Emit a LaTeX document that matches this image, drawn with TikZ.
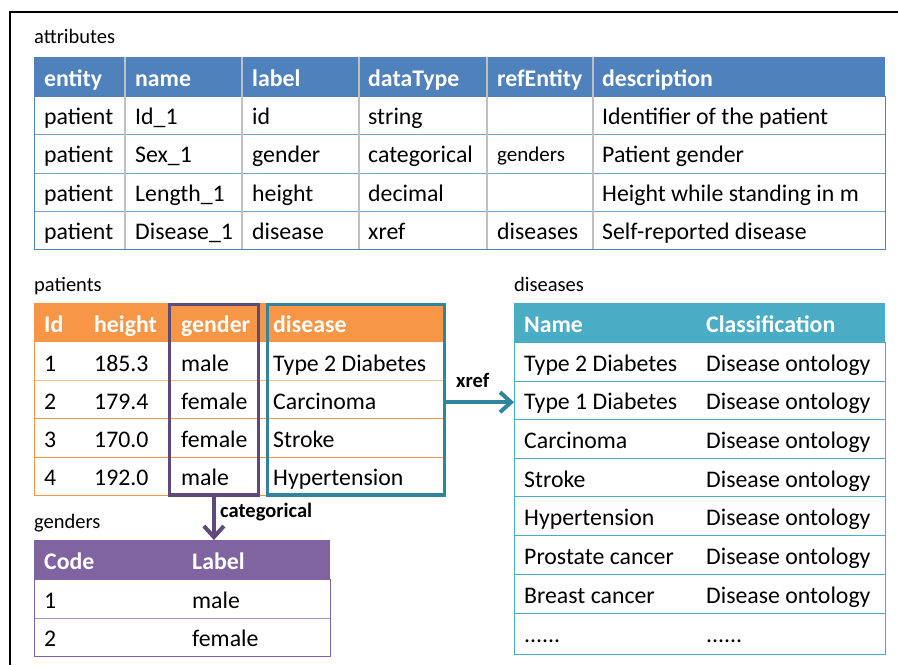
\documentclass[tikz,border=0pt]{standalone}
\usepackage{fontspec}
\setmainfont{Carlito}
\usetikzlibrary{arrows.meta}
\definecolor{attblue}{HTML}{4F81BD}
\definecolor{attline}{HTML}{7BA0CD}
\definecolor{sepgray}{HTML}{C0C0C0}
\definecolor{patorange}{HTML}{F79646}
\definecolor{genpurple}{HTML}{8064A2}
\definecolor{genline}{HTML}{A590C4}
\definecolor{disteal}{HTML}{4BACC6}
\definecolor{boxpurple}{HTML}{5F497A}
\definecolor{boxteal}{HTML}{31849B}

\begin{document}
\begin{tikzpicture}[x=1pt,y=-1pt,
  cell/.style={anchor=base west, inner sep=0pt, yshift=-1pt, font=\fontsize{23.8}{28}\selectfont},
  head/.style={anchor=base west, inner sep=0pt, yshift=-1pt, text=white, font=\fontsize{23.8}{28}\selectfont\bfseries},
  caption/.style={anchor=base west, inner sep=0pt, font=\fontsize{20.5}{24}\selectfont},
  linklabel/.style={anchor=base west, inner sep=0pt, font=\fontsize{20.5}{24}\selectfont\bfseries},
  headbar/.style={anchor=north west, inner sep=0pt, minimum height=39pt},
  colbox/.style={draw, line width=3.5pt, inner sep=0pt},
  link/.style={line width=4pt, -{Straight Barb[length=11pt,width=20pt]}}]
\useasboundingbox (0,0) rectangle (898,665);

% outer frame
\draw[line width=1.5pt] (10,665) -- (10,12) -- (898,12);

% ---------------- attributes ----------------
\node[caption] (capatt) at (34,43) {attributes};
\node[headbar, fill=attblue, minimum width=851pt] (atthead) at (34,57) {};
\foreach \y in {134,173,211} \draw[attline, line width=1pt] (34,\y) -- (885,\y);
\draw[attblue, line width=1pt] (34,96) rectangle (885,249);
\foreach \x in {125,242,359,487,593} \draw[sepgray, line width=1.2pt] (\x,57) -- (\x,249);
\foreach \x/\t [count=\c] in {44/entity,135/name,252/label,368/dataType,497/refEntity,602/description}
  \node[head] (ah\c) at (\x,85) {\t};
\foreach \x/\t [count=\c] in {44/patient,135/Id\_1,252/id,368/string,602/Identifier of the patient}
  \node[cell] (a1c\c) at (\x,123.5) {\t};
\foreach \x/\t [count=\c] in {44/patient,135/Sex\_1,252/gender,368/categorical,602/Patient gender}
  \node[cell] (a2c\c) at (\x,161.5) {\t};
\node[cell, font=\fontsize{21}{25}\selectfont] (a2ref) at (497,160) {genders};
\foreach \x/\t [count=\c] in {44/patient,135/Length\_1,252/height,368/decimal,602/Height while standing in m}
  \node[cell] (a3c\c) at (\x,200.5) {\t};
\foreach \x/\t [count=\c] in {44/patient,135/Disease\_1,252/disease,368/xref,497/diseases,602/Self-reported disease}
  \node[cell] (a4c\c) at (\x,238.5) {\t};

% ---------------- patients ----------------
\node[caption] (cappat) at (34,291) {patients};
\node[headbar, fill=patorange, minimum width=409pt] (pathead) at (34,303) {};
\draw[patorange!60, line width=1pt] (34,380) -- (443,380);
\foreach \y in {418,457} \draw[patorange, line width=1pt] (34,\y) -- (443,\y);
\draw[patorange, line width=1pt] (34,342) -- (34,495) -- (443,495);
\foreach \x/\t [count=\c] in {44/Id,94/height,181/gender,273/disease}
  \node[head] (ph\c) at (\x,331) {\t};
\foreach \y/\a/\b/\g/\d [count=\r] in {370/1/185.3/male/Type 2 Diabetes,
                                     408/2/179.4/female/Carcinoma,
                                     446.5/3/170.0/female/Stroke,
                                     484.5/4/192.0/male/Hypertension}{
  \node[cell] (p\r id) at (44,\y) {\a};
  \node[cell] (p\r ht) at (94,\y) {\b};
  \node[cell] (p\r gd) at (181,\y) {\g};
  \node[cell] (p\r ds) at (273,\y) {\d};
}
% highlighted columns
\node[colbox, draw=boxpurple, minimum width=88.8pt, minimum height=190.5pt] (gbox) at (213.9,399.7) {};
\node[colbox, draw=boxteal, minimum width=177.2pt, minimum height=190.5pt] (tbox) at (356.1,399.7) {};

% ---------------- genders ----------------
\node[caption] (capgen) at (34,528) {genders};
\node[headbar, fill=genpurple, minimum width=296pt] (genhead) at (34,540) {};
\draw[genline, line width=1pt] (34,618) -- (330,618);
\draw[genpurple, line width=1pt] (34,579) rectangle (330,656);
\node[head] (gh1) at (44,568) {Code};
\node[head] (gh2) at (192,568) {Label};
\node[cell] (g1c) at (44,607) {1};
\node[cell] (g1l) at (192,607) {male};
\node[cell] (g2c) at (44,645.5) {2};
\node[cell] (g2l) at (192,645.5) {female};

% ---------------- diseases ----------------
\node[caption] (capdis) at (514,291) {diseases};
\node[headbar, fill=disteal, minimum width=371pt] (dishead) at (514,303) {};
\foreach \y in {381,419,458,496,535,574,613} \draw[disteal, line width=1pt] (514,\y) -- (885,\y);
\draw[disteal, line width=1pt] (514,342) rectangle (885,654);
\node[head] (dh1) at (524,331) {Name};
\node[head] (dh2) at (706,331) {Classification};
\foreach \y/\n [count=\r] in {370/Type 2 Diabetes,408/Type 1 Diabetes,447/Carcinoma,486/Stroke,
                              524/Hypertension,563/Prostate cancer,602/Breast cancer}{
  \node[cell] (d\r n) at (524,\y) {\n};
  \node[cell] (d\r c) at (706,\y) {Disease ontology};
}
\node[cell] (d8n) at (524,641) {......};
\node[cell] (d8c) at (706,641) {......};

% ---------------- links ----------------
\draw[link, boxpurple] (gbox.south) -- (gbox.south |- genhead.north);
\node[linklabel] (lcat) at (220,517) {categorical};
\draw[link, boxteal] ([yshift=-2.5pt]tbox.east) -- ([yshift=-2.5pt]tbox.east -| dishead.west);
\node[linklabel] (lxref) at (456,387) {xref};
\end{tikzpicture}
\end{document}
